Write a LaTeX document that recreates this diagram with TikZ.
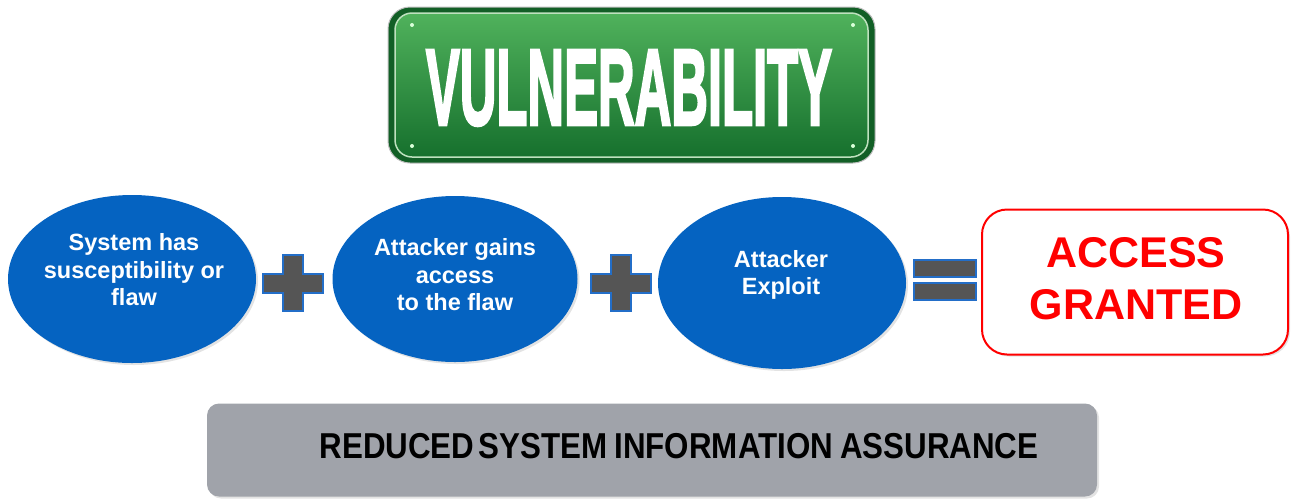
\documentclass[tikz,border=0pt]{standalone}
\usepackage{fontspec}
\setmainfont{Liberation Sans}
\newfontfamily\signfont[BoldFeatures={FakeBold=3}]{Liberation Sans}
\usetikzlibrary{shapes.geometric,shadows}

\definecolor{ovalblue}{RGB}{5,99,193}
\definecolor{opgray}{RGB}{85,85,85}
\definecolor{opblue}{RGB}{35,110,200}
\definecolor{signtop}{RGB}{80,178,92}
\definecolor{signmid}{RGB}{45,150,65}
\definecolor{signbot}{RGB}{22,112,45}
\definecolor{signedge}{RGB}{18,95,38}
\definecolor{signline}{RGB}{190,225,190}
\definecolor{barfill}{RGB}{160,163,170}
\definecolor{alertred}{RGB}{255,0,0}

\tikzset{
  softshadow/.style={drop shadow={opacity=0.22,shadow xshift=2pt,shadow yshift=-2pt}},
  oval/.style={ellipse,fill=ovalblue,inner sep=0,softshadow},
  ovaltext/.style={text=white,align=center,inner sep=0,
    font=\fontsize{23.5}{27.5}\selectfont\bfseries},
  opshape/.style={fill=opgray,draw=opblue,line width=2pt,line join=miter},
  plussign/.pic={
    \path[opshape] (-10,-28) -- (10,-28) -- (10,-9) -- (30,-9) -- (30,10)
      -- (10,10) -- (10,28) -- (-10,28) -- (-10,10) -- (-30,10) -- (-30,-9)
      -- (-10,-9) -- cycle;
  },
  equalsign/.pic={
    \path[opshape] (-31,-20) rectangle (31,-3);
    \path[opshape] (-31,3) rectangle (31,20);
  }
}

\begin{document}
\begin{tikzpicture}[x=1pt,y=-1pt]
\useasboundingbox (0,0) rectangle (1295,499);

% green street sign
\draw[rounded corners=22pt,fill=signedge,draw=black!25,line width=1pt]
  (388,7) rectangle (875,163);
\shade[rounded corners=17pt,top color=signtop,middle color=signmid,bottom color=signbot]
  (395,13) rectangle (868,157);
\draw[rounded corners=17pt,draw=signline,line width=1.5pt]
  (395,13) rectangle (868,157);
\foreach \sx/\sy in {412/25,853/25,412/146,853/146}
  \fill[white!85!green] (\sx,\sy) circle (2pt);
\node[text=white,inner sep=0,font=\signfont\fontsize{108}{108}\selectfont\bfseries]
  (sign) at (629,88) {\scalebox{0.47}[1]{VULNERABILITY}};

% the three conditions
\node[oval,minimum width=248pt,minimum height=168pt] (flaw) at (132,279) {};
\node[ovaltext] (flawtxt) at (134,270) {System has\\susceptibility or\\flaw};

\node[oval,minimum width=245pt,minimum height=166pt] (reach) at (455,279) {};
\node[ovaltext] (reachtxt) at (455,275) {Attacker gains\\access\\to the flaw};

\node[oval,minimum width=248pt,minimum height=172pt] (exploit) at (782,283) {};
\node[ovaltext] (exploittxt) at (781,275) {Attacker\\Exploit};

% operators
\pic (plusA) at (293,283) {plussign};
\pic (plusB) at (621,283) {plussign};
\pic (equals) at (945,280) {equalsign};

% result
\node[draw=alertred,line width=2pt,fill=white,rounded corners=25pt,
  minimum width=306pt,minimum height=145pt,softshadow] (result) at (1135,282) {};
\node[text=alertred,align=center,inner sep=0,
  font=\fontsize{43}{52}\selectfont\bfseries] (resulttxt) at (1136,279)
  {ACCESS\\GRANTED};

% consequence bar
\node[fill=barfill,rounded corners=12pt,minimum width=890pt,minimum height=93pt,
  softshadow] (bar) at (652,450) {};
\node[inner sep=0,font=\fontsize{36}{36}\selectfont\bfseries] (bartxt) at (679,446)
  {\scalebox{0.87}[1]{REDUCED\hspace{5pt}SYSTEM\hspace{8pt}INFORMATION\hspace{8pt}ASSURANCE}};
\end{tikzpicture}
\end{document}
